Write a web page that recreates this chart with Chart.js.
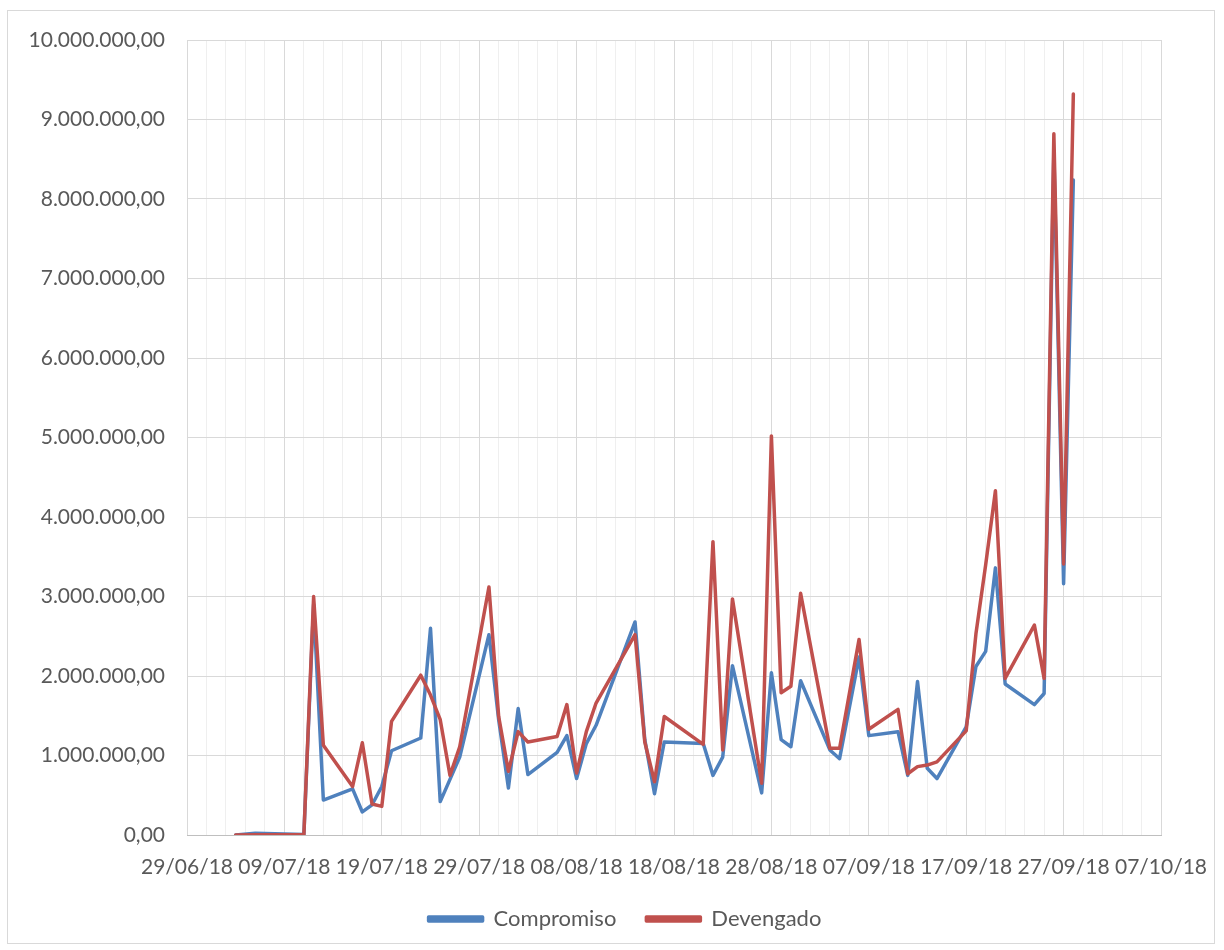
<!DOCTYPE html>
<html>
<head>
<meta charset="utf-8">
<script src="https://cdn.jsdelivr.net/npm/chart.js@4.4.1/dist/chart.umd.min.js"></script>
<style>
  html, body { margin: 0; padding: 0; background: #fff; }
  #wrap { position: relative; width: 1224px; height: 950px; }
  #frame { position: absolute; left: 7px; top: 10px; width: 1208px; height: 934px; border: 1px solid #d9d9d9; box-sizing: border-box; pointer-events: none; }
  canvas { position: absolute; left: 0; top: 0; }
</style>
</head>
<body>
<div id="wrap">
  <canvas id="chart" width="1224" height="950"></canvas>
  <div id="frame"></div>
</div>
<script>
// Data
const dates = [
  '04/07/18', '06/07/18', '11/07/18', '12/07/18', '13/07/18', '16/07/18', '17/07/18', '18/07/18',
  '19/07/18', '20/07/18', '23/07/18', '24/07/18', '25/07/18', '26/07/18', '27/07/18', '30/07/18',
  '31/07/18', '01/08/18', '02/08/18', '03/08/18', '06/08/18', '07/08/18', '08/08/18', '09/08/18',
  '10/08/18', '14/08/18', '15/08/18', '16/08/18', '17/08/18', '21/08/18', '22/08/18', '23/08/18',
  '24/08/18', '27/08/18', '28/08/18', '29/08/18', '30/08/18', '31/08/18', '03/09/18', '04/09/18',
  '06/09/18', '07/09/18', '10/09/18', '11/09/18', '12/09/18', '13/09/18', '14/09/18', '17/09/18',
  '18/09/18', '19/09/18', '20/09/18', '21/09/18', '24/09/18', '25/09/18', '26/09/18', '27/09/18',
  '28/09/18'
];
const compromiso = [
  0, 22000, 5000, 2900000, 440000, 580000, 290000, 380000,
  610000, 1060000, 1220000, 2600000, 420000, 700000, 980000, 2520000,
  1450000, 590000, 1590000, 760000, 1040000, 1250000, 710000, 1150000,
  1380000, 2680000, 1200000, 520000, 1170000, 1150000, 750000, 980000,
  2130000, 530000, 2040000, 1200000, 1110000, 1940000, 1070000, 960000,
  2240000, 1250000, 1300000, 750000, 1930000, 840000, 710000, 1360000,
  2120000, 2310000, 3360000, 1900000, 1640000, 1780000, 8600000, 3160000,
  8240000
];
const devengado = [
  0, 3000, 5000, 3000000, 1130000, 610000, 1160000, 390000,
  360000, 1430000, 2010000, 1760000, 1450000, 750000, 1110000, 3120000,
  1490000, 800000, 1300000, 1170000, 1240000, 1640000, 780000, 1300000,
  1660000, 2520000, 1170000, 670000, 1490000, 1140000, 3690000, 1070000,
  2970000, 650000, 5020000, 1790000, 1870000, 3040000, 1090000, 1090000,
  2460000, 1330000, 1580000, 770000, 860000, 880000, 920000, 1310000,
  2530000, 3400000, 4330000, 1970000, 2640000, 1970000, 8820000, 3410000,
  9320000
];
const xStart = '29/06/18';
const xEnd = '07/10/18';
const yMax = 10000000;
const yStep = 1000000;

const DAY = 86400000;
function toDay(s) {
  const [d, m, y] = s.split('/').map(Number);
  return Date.UTC(2000 + y, m - 1, d) / DAY;
}
function fromDay(n) {
  const dt = new Date(n * DAY);
  const p = v => String(v).padStart(2, '0');
  return p(dt.getUTCDate()) + '/' + p(dt.getUTCMonth() + 1) + '/' + p(dt.getUTCFullYear() % 100);
}
function fmtNum(v) {
  const int = Math.round(v).toString().replace(/\B(?=(\d{3})+(?!\d))/g, '.');
  return int + ',00';
}

const x0 = toDay(xStart);
const x1 = toDay(xEnd);
const pts = arr => dates.map((d, i) => ({ x: toDay(d), y: arr[i] }));

const FONT = { family: 'Lato, "Open Sans", sans-serif', size: 21 };
const LEG_FONT = { family: 'Lato, "Open Sans", sans-serif', size: 22 };
const TXT = '#595959';

new Chart(document.getElementById('chart'), {
  type: 'line',
  data: {
    datasets: [
      { label: 'Compromiso', data: pts(compromiso), borderColor: '#4f81bd', backgroundColor: '#4f81bd', borderWidth: 3.5, pointRadius: 0, tension: 0, order: 2, borderJoinStyle: 'round', borderCapStyle: 'round' },
      { label: 'Devengado', data: pts(devengado), borderColor: '#c0504d', backgroundColor: '#c0504d', borderWidth: 3.5, pointRadius: 0, tension: 0, order: 1, borderJoinStyle: 'round', borderCapStyle: 'round' }
    ]
  },
  options: {
    responsive: false,
    animation: false,
    events: [],
    layout: { padding: { left: 26, right: 0, top: 40, bottom: 10 } },
    plugins: {
      tooltip: { enabled: false },
      legend: {
        position: 'bottom',
        labels: {
          color: TXT, font: LEG_FONT, boxWidth: 54, boxHeight: 4, padding: 30,
          sort: (a, b) => a.datasetIndex - b.datasetIndex
        }
      }
    },
    scales: {
      x: {
        type: 'linear', min: x0, max: x1,
        border: { color: '#bfbfbf' },
        grid: {
          drawTicks: false,
          color: c => (Math.round(c.tick.value - x0) % 10 === 0 ? '#d9d9d9' : '#efefef')
        },
        ticks: {
          stepSize: 2, autoSkip: false, maxRotation: 0, padding: 20, color: TXT, font: FONT,
          callback: v => (Math.round(v - x0) % 10 === 0 ? fromDay(v) : '')
        },
        afterFit: s => { s.height = 43; s.paddingLeft = 0; s.paddingRight = 0; }
      },
      y: {
        min: 0, max: yMax,
        border: { display: false },
        grid: { drawTicks: false, color: '#d9d9d9' },
        ticks: { stepSize: yStep, padding: 22, color: TXT, font: FONT, callback: v => fmtNum(v) },
        afterFit: s => { s.width = 161; }
      },
      // empty right-hand spacer so the plot ends where the reference's does
      spacer: {
        type: 'linear', position: 'right',
        border: { display: false },
        grid: { display: false },
        ticks: { display: false },
        afterFit: s => { s.width = 63; }
      }
    }
  }
});
</script>
</body>
</html>
